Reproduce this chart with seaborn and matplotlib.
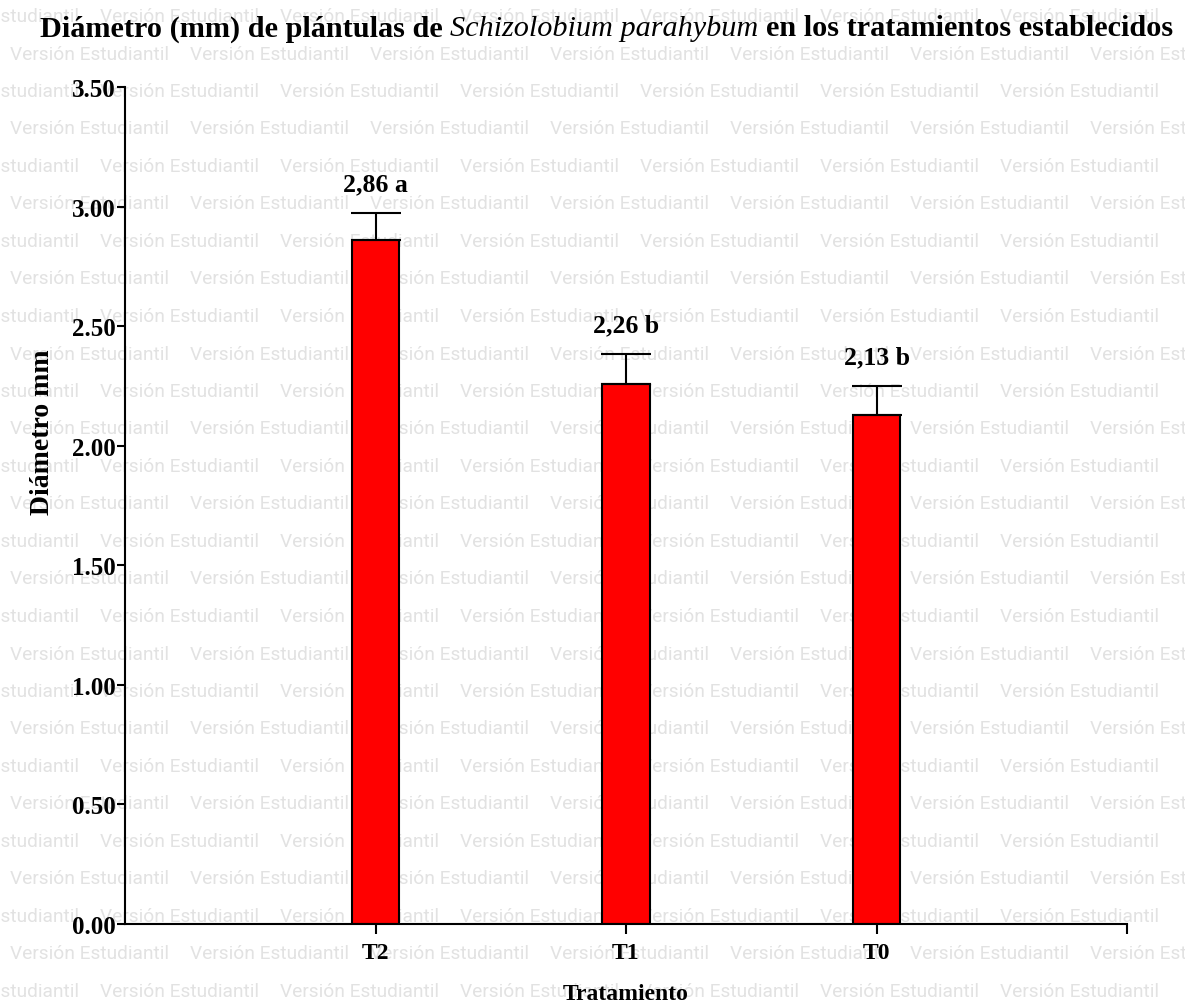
import matplotlib
matplotlib.use("Agg")
import matplotlib.pyplot as plt
import seaborn as sns
import numpy as np
import pandas as pd

# data
tratamientos = ["T2", "T1", "T0"]
diametro = [2.86, 2.26, 2.13]
error_sup = [0.115, 0.125, 0.12]
etiquetas = ["2,86 a", "2,26 b", "2,13 b"]
y_ticks = [0.0, 0.5, 1.0, 1.5, 2.0, 2.5, 3.0, 3.5]
marca_agua = "Versión Estudiantil"

df = pd.DataFrame({"Tratamiento": tratamientos, "Diametro": diametro})

sns.set_style("white")
plt.rcParams["font.family"] = ["Liberation Serif", "DejaVu Serif"]
plt.rcParams.update({"text.color": "black", "axes.labelcolor": "black",
                     "xtick.color": "black", "ytick.color": "black"})

W, H = 1185, 1003
fig = plt.figure(figsize=(W / 100, H / 100), dpi=100)
fig.patch.set_facecolor("white")
ax = fig.add_axes([125 / W, 1 - 925 / H, (1127 - 125) / W, (925 - 88) / H])
ax.patch.set_visible(False)
ax.set_zorder(2)

# watermark of the student version, behind everything
for i in range(27):
    y = 1 - (17 + 37.5 * i) / H
    x0 = -80 if i % 2 == 0 else 10
    for k in range(7):
        x = x0 + 180 * k
        fig.text(x / W, y, marca_agua, family=["Roboto", "DejaVu Sans"],
                 fontsize=13.8, color="#e2e2e2", va="center", ha="left", zorder=-5)

sns.barplot(data=df, x="Tratamiento", y="Diametro", color="#ff0000", width=0.19,
            edgecolor="black", linewidth=1.5, errorbar=None, saturation=1, ax=ax)
ax.errorbar(np.arange(len(tratamientos)), diametro,
            yerr=[np.zeros(len(error_sup)), error_sup], fmt="none",
            ecolor="black", elinewidth=1.5, capsize=18, capthick=1.5, zorder=1)

for i, (v, e, lab) in enumerate(zip(diametro, error_sup, etiquetas)):
    ax.text(i, v + e + 0.12, lab, ha="center", va="center",
            fontsize=18.5, fontweight="bold")

ax.set_xlim(-1, 3)
ax.set_ylim(0, 3.5)
ax.set_yticks(y_ticks)
ax.set_yticklabels([f"{t:.2f}" for t in y_ticks], fontsize=18, fontweight="bold")
ax.set_xticks(range(len(tratamientos)))
ax.set_xticklabels(tratamientos, fontsize=17, fontweight="bold")
ax.set_xticks([3], minor=True)
ax.tick_params(axis="x", which="both", direction="out", length=7, width=1.5, pad=6, bottom=True)
ax.tick_params(axis="y", direction="out", length=6, width=1.5, pad=1, left=True)

sns.despine(ax=ax)
for s in ["left", "bottom"]:
    ax.spines[s].set_linewidth(1.5)
    ax.spines[s].set_color("black")

ax.set_xlabel("Tratamiento", fontsize=17, fontweight="bold", labelpad=14)
ax.set_ylabel("Diámetro mm", fontsize=20, fontweight="bold")
ax.yaxis.set_label_coords(-0.07, 0.589)

# title with the species name in italics
fig.canvas.draw()
r = fig.canvas.get_renderer()
partes = [("Diámetro (mm) de plántulas de", "normal", "bold"),
          ("Schizolobium parahybum", "italic", "normal"),
          ("en los tratamientos establecidos", "normal", "bold")]
t_sp = fig.text(0, 0, "a a", fontsize=21.8, fontweight="bold")
t_ns = fig.text(0, 0, "aa", fontsize=21.8, fontweight="bold")
esp = t_sp.get_window_extent(r).width - t_ns.get_window_extent(r).width
t_sp.remove()
t_ns.remove()
x = 40
for txt, estilo, peso in partes:
    t = fig.text(x / W, 1 - 29 / H, txt, fontsize=21.8, fontweight=peso,
                 style=estilo, va="center", ha="left")
    x += t.get_window_extent(r).width + esp

fig.savefig("out.png", dpi=100)
